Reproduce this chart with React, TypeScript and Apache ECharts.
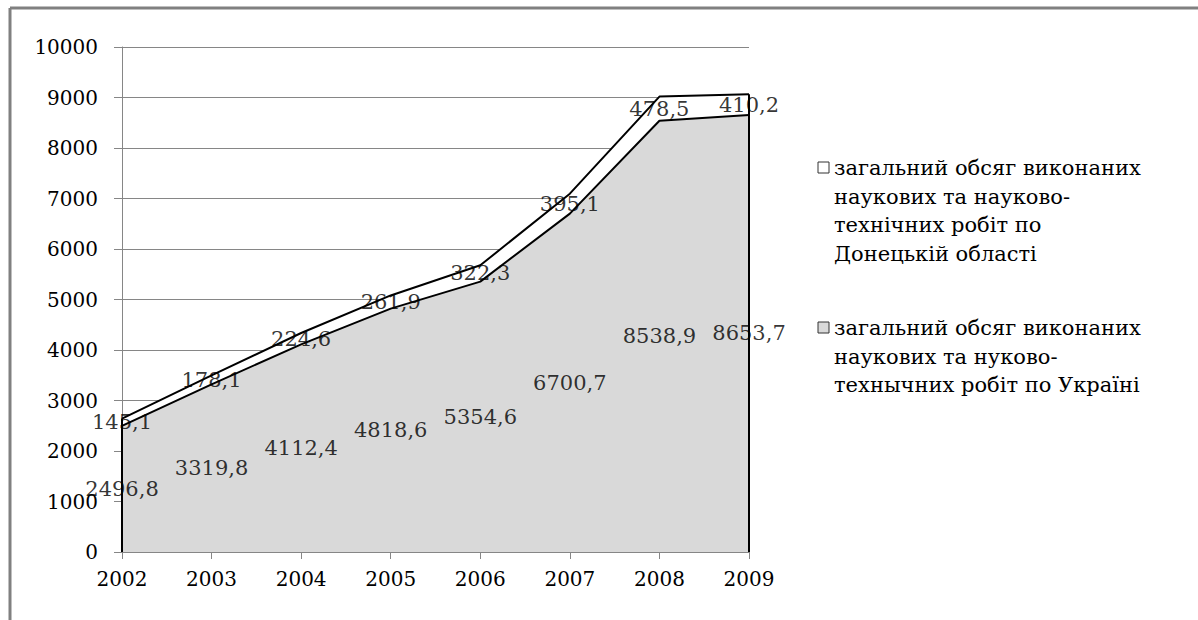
import React, { useEffect, useRef } from "react";
import * as echarts from "echarts";

const years = ["2002", "2003", "2004", "2005", "2006", "2007", "2008", "2009"];
const ukraine = [2496.8, 3319.8, 4112.4, 4818.6, 5354.6, 6700.7, 8538.9, 8653.7];
const donetsk = [145.1, 178.1, 224.6, 261.9, 322.3, 395.1, 478.5, 410.2];
const legendDonetsk = "загальний обсяг виконаних\nнаукових та науково-\nтехнічних робіт по\nДонецькій області";
const legendUkraine = "загальний обсяг виконаних\nнаукових та нуково-\nтехнычних робіт по Україні";

const FONT = "DejaVu Serif";
const fmt = (v: number) => v.toFixed(1).replace(".", ",");

export default function App() {
  const ref = useRef<HTMLDivElement>(null);
  useEffect(() => {
    if (!ref.current) return;
    const chart = echarts.init(ref.current, null, { renderer: "svg" });
    const last = years.length - 1;
    const ukrMid = ukraine.map((v, i) => [years[i], v / 2, v]);
    const donMid = donetsk.map((v, i) => [years[i], ukraine[i] + v / 2, v]);
    const labelStyle = {
      show: true,
      position: "inside",
      color: "#000",
      fontFamily: FONT,
      fontSize: 21,
      formatter: (p: any) => fmt(p.data[2]),
    };
    chart.setOption({
      animation: false,
      grid: { left: 122, right: 449, top: 47, bottom: 68 },
      xAxis: {
        type: "category",
        data: years,
        boundaryGap: false,
        axisLine: { show: true, lineStyle: { color: "#868686", width: 1 } },
        axisTick: { show: true, length: 7, lineStyle: { color: "#868686" } },
        axisLabel: { color: "#000", fontFamily: FONT, fontSize: 20, margin: 17 },
        splitLine: { show: false },
      },
      yAxis: {
        type: "value",
        min: 0,
        max: 10000,
        interval: 1000,
        axisLine: { show: true, lineStyle: { color: "#868686", width: 1 } },
        axisTick: { show: true, length: 8, lineStyle: { color: "#868686" } },
        axisLabel: { color: "#000", fontFamily: FONT, fontSize: 20, margin: 24, formatter: (v: number) => String(v) },
        splitLine: { show: true, lineStyle: { color: "#868686", width: 1 } },
      },
      graphic: [
        { type: "line", shape: { x1: 10, y1: 8, x2: 10, y2: 620 }, style: { stroke: "#808080", lineWidth: 3 } },
        { type: "line", shape: { x1: 10, y1: 8, x2: 1198, y2: 8 }, style: { stroke: "#808080", lineWidth: 3 } },
        { type: "rect", shape: { x: 818, y: 162, width: 11, height: 11 }, style: { fill: "#fff", stroke: "#333", lineWidth: 1 } },
        { type: "text", x: 834, y: 154, style: { text: legendDonetsk, font: `21px "${FONT}"`, lineHeight: 28.5, fill: "#000" } },
        { type: "rect", shape: { x: 818, y: 322, width: 11, height: 11 }, style: { fill: "#d9d9d9", stroke: "#333", lineWidth: 1 } },
        { type: "text", x: 834, y: 314, style: { text: legendUkraine, font: `21px "${FONT}"`, lineHeight: 28.5, fill: "#000" } },
      ],
      series: [
        {
          name: "Україна",
          type: "line",
          stack: "total",
          data: ukraine,
          symbol: "none",
          lineStyle: { color: "#000", width: 2 },
          areaStyle: { color: "#d9d9d9", opacity: 1 },
          z: 2,
          markLine: {
            silent: true,
            symbol: "none",
            label: { show: false },
            lineStyle: { color: "#000", width: 2, type: "solid" },
            data: [
              [{ coord: [years[0], 0] }, { coord: [years[0], ukraine[0] + donetsk[0]] }],
              [{ coord: [years[last], 0] }, { coord: [years[last], ukraine[last] + donetsk[last]] }],
            ],
          },
        },
        {
          name: "Донецька область",
          type: "line",
          stack: "total",
          data: donetsk,
          symbol: "none",
          lineStyle: { color: "#000", width: 2 },
          areaStyle: { color: "#fff", opacity: 1 },
          z: 2,
        },
        { type: "scatter", data: ukrMid, symbolSize: 0, label: labelStyle, z: 5 },
        { type: "scatter", data: donMid, symbolSize: 0, label: labelStyle, z: 5 },
      ],
    });
    return () => chart.dispose();
  }, []);
  return <div ref={ref} style={{ width: 1198, height: 620, position: "absolute", left: 0, top: 0 }} />;
}
